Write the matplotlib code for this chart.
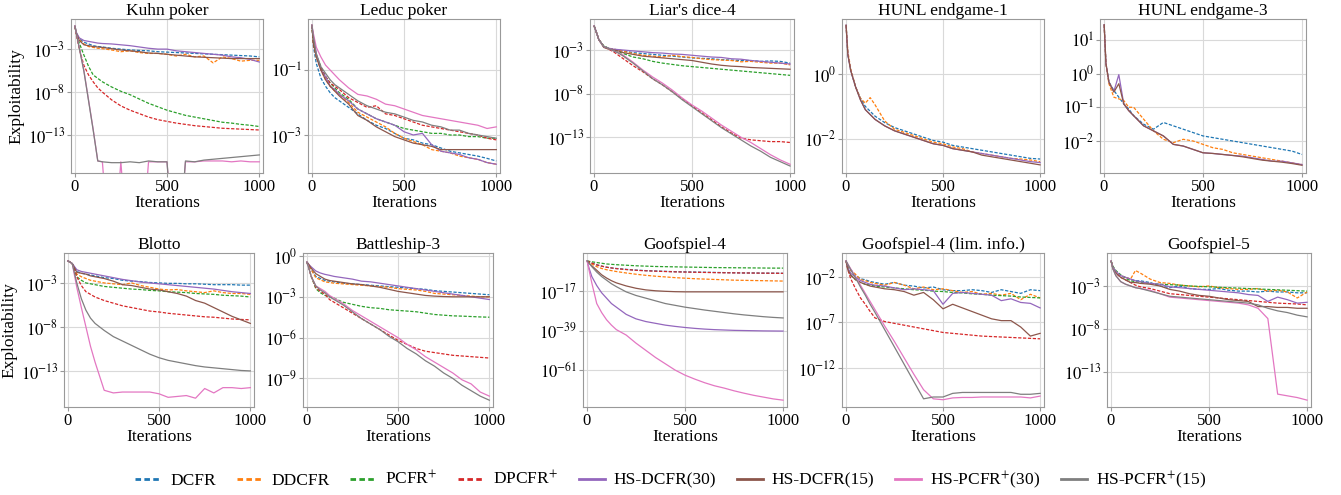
import numpy as np
import matplotlib
matplotlib.use("Agg")
import matplotlib.pyplot as plt
from matplotlib.lines import Line2D

plt.rcParams['font.family'] = ['Liberation Serif', 'DejaVu Serif']
plt.rcParams['mathtext.fontset'] = 'stix'

iters = [1, 10, 25, 50, 75, 100, 125, 150, 200, 250, 300, 350, 400, 450,
         500, 550, 600, 650, 700, 750, 800, 850, 900, 950, 1000]

algos = ['DCFR', 'DDCFR', 'PCFR$^{+}$', 'DPCFR$^{+}$', 'HS-DCFR(30)',
         'HS-DCFR(15)', 'HS-PCFR$^{+}$(30)', 'HS-PCFR$^{+}$(15)']
colors = ['#1f77b4', '#ff7f0e', '#2ca02c', '#d62728', '#9467bd',
          '#8c564b', '#e377c2', '#7f7f7f']
styles = ['--', '--', '--', '--', '-', '-', '-', '-']

games = ['Kuhn poker', 'Leduc poker', "Liar's dice-4", 'HUNL endgame-1',
         'HUNL endgame-3', 'Blotto', 'Battleship-3', 'Goofspiel-4',
         'Goofspiel-4 (lim. info.)', 'Goofspiel-5']

# log10(exploitability), one list per algorithm (None = not run)
kuhn = [
    [-0.33,-1.2,-1.8,-2.2,-2.4,-2.6,-2.7,-2.75,-2.9,-3.0,-3.1,-3.15,-3.2,-3.3,-3.35,-3.4,-3.45,-3.5,-3.55,-3.6,-3.65,-3.7,-3.75,-3.8,-3.9],
    [-0.33,-1.3,-1.9,-2.4,-2.7,-2.8,-2.9,-2.95,-3.1,-3.3,-3.2,-3.4,-3.5,-3.5,-3.6,-3.8,-3.6,-3.9,-3.8,-4.6,-3.9,-4.1,-4.4,-4.3,-4.3],
    [-0.33,-1.3,-2.3,-3.7,-5.0,-6.0,-6.4,-6.8,-7.4,-7.9,-8.3,-8.8,-9.3,-9.7,-10.1,-10.4,-10.7,-10.9,-11.1,-11.3,-11.5,-11.6,-11.75,-11.85,-12.0],
    [-0.33,-1.5,-3.0,-4.9,-6.0,-6.8,-7.5,-8.0,-8.9,-9.6,-10.1,-10.5,-10.9,-11.2,-11.4,-11.6,-11.75,-11.9,-12.0,-12.1,-12.2,-12.25,-12.3,-12.35,-12.4],
    [-0.33,-1.1,-1.7,-2.0,-2.1,-2.2,-2.3,-2.35,-2.4,-2.5,-2.6,-2.75,-2.9,-3.0,-3.0,-3.2,-3.3,-3.4,-3.5,-3.6,-3.7,-3.9,-4.0,-4.2,-4.5],
    [-0.33,-1.2,-2.0,-2.5,-2.6,-2.7,-2.75,-2.8,-2.95,-3.1,-3.2,-3.3,-3.45,-3.5,-3.6,-3.7,-3.8,-3.9,-3.95,-4.0,-4.05,-4.1,-4.1,-4.1,-4.1],
    [-0.33,-1.3,-2.8,-5.5,-8.9,-12.3,-16.0,-16.1,-30,-16.1,-30,-30,-16.1,-16.1,-16.1,-30,-16.1,-16.1,-16.0,-16.0,-16.0,-16.1,-16.0,-16.1,-16.1],
    [-0.33,-1.3,-2.9,-5.6,-9.0,-12.4,-16.0,-16.1,-16.2,-16.2,-16.1,-16.2,-16.0,-16.1,-16.1,-30,-16.0,-16.1,-15.9,-15.8,-15.7,-15.6,-15.5,-15.4,-15.3],
]
leduc = [
    [0.38,-0.3,-0.8,-1.25,-1.5,-1.7,-1.85,-1.95,-2.15,-2.35,-2.55,-2.7,-2.8,-2.95,-3.1,-3.15,-3.25,-3.3,-3.4,-3.5,-3.55,-3.6,-3.65,-3.72,-3.8],
    [0.38,-0.2,-0.6,-1.0,-1.3,-1.5,-1.65,-1.75,-2.0,-2.3,-2.45,-2.6,-2.75,-2.95,-3.1,-3.2,-3.3,-3.45,-3.5,-3.55,-3.65,-3.7,-3.75,-3.85,-3.9],
    [0.38,-0.2,-0.55,-0.9,-1.2,-1.4,-1.55,-1.7,-1.9,-2.2,-2.35,-2.5,-2.6,-2.7,-2.8,-2.85,-2.9,-2.95,-2.95,-3.0,-3.0,-3.05,-3.05,-3.1,-3.1],
    [0.38,-0.2,-0.55,-0.95,-1.2,-1.4,-1.5,-1.6,-1.85,-2.0,-2.15,-2.1,-2.35,-2.4,-2.5,-2.6,-2.7,-2.75,-2.8,-2.85,-2.9,-2.95,-3.0,-3.1,-3.15],
    [0.38,0.0,-0.5,-1.0,-1.2,-1.5,-1.6,-1.75,-1.95,-2.2,-2.35,-2.5,-2.6,-2.7,-2.9,-3.0,-2.95,-3.3,-3.5,-3.55,-3.6,-3.7,-3.75,-3.85,-3.9],
    [0.38,-0.2,-0.6,-1.0,-1.3,-1.5,-1.65,-1.8,-2.05,-2.4,-2.55,-2.75,-2.9,-3.05,-3.15,-3.25,-3.3,-3.35,-3.45,-3.45,-3.45,-3.45,-3.45,-3.45,-3.45],
    [0.38,0.1,-0.3,-0.6,-0.85,-1.0,-1.15,-1.3,-1.55,-1.75,-1.8,-1.9,-2.05,-2.1,-2.2,-2.3,-2.4,-2.45,-2.5,-2.55,-2.6,-2.65,-2.7,-2.8,-2.75],
    [0.38,0.0,-0.5,-0.9,-1.1,-1.3,-1.45,-1.55,-1.75,-1.95,-2.1,-2.2,-2.3,-2.35,-2.45,-2.55,-2.6,-2.7,-2.75,-2.85,-2.85,-2.95,-3.0,-3.05,-3.1],
]
liars = [
    [-0.24,-0.8,-1.8,-2.6,-2.8,-2.9,-3.0,-3.1,-3.3,-3.4,-3.5,-3.6,-3.7,-3.8,-3.9,-3.95,-4.0,-4.1,-4.15,-4.2,-4.2,-4.3,-4.25,-4.3,-4.5],
    [-0.24,-0.8,-1.8,-2.6,-2.8,-2.9,-3.0,-3.15,-3.4,-3.6,-3.7,-3.8,-3.6,-3.75,-3.85,-4.0,-4.1,-4.15,-4.2,-4.35,-4.3,-4.4,-4.5,-4.5,-4.7],
    [-0.24,-0.8,-1.8,-2.5,-2.8,-3.0,-3.2,-3.4,-3.8,-4.0,-4.3,-4.5,-4.65,-4.8,-4.9,-5.0,-5.1,-5.2,-5.3,-5.4,-5.5,-5.6,-5.7,-5.8,-5.9],
    [-0.24,-0.8,-1.8,-2.6,-2.9,-3.2,-3.6,-4.0,-4.8,-5.5,-6.3,-7.0,-7.8,-8.6,-9.4,-10.2,-11.0,-11.8,-12.5,-13.1,-13.3,-13.4,-13.5,-13.5,-13.6],
    [-0.24,-0.8,-1.8,-2.6,-2.8,-2.9,-2.95,-3.0,-3.1,-3.2,-3.3,-3.35,-3.45,-3.5,-3.6,-3.7,-3.8,-3.85,-4.0,-4.05,-4.2,-4.3,-4.4,-4.5,-4.6],
    [-0.24,-0.8,-1.8,-2.7,-2.9,-3.0,-3.1,-3.3,-3.5,-3.7,-3.8,-3.9,-4.0,-4.1,-4.2,-4.4,-4.6,-4.75,-4.85,-4.9,-5.0,-5.05,-5.1,-5.15,-5.2],
    [-0.24,-0.8,-1.8,-2.6,-2.8,-3.1,-3.3,-3.6,-4.4,-5.3,-6.1,-6.8,-7.6,-8.5,-9.3,-10.0,-10.8,-11.6,-12.3,-13.0,-13.6,-14.3,-15.0,-15.6,-16.1],
    [-0.24,-0.8,-1.8,-2.6,-2.8,-3.1,-3.35,-3.7,-4.5,-5.4,-6.3,-7.0,-7.8,-8.7,-9.5,-10.3,-11.1,-11.9,-12.6,-13.3,-14.0,-14.6,-15.3,-15.8,-16.3],
]
hunl1 = [
    [1.5,0.6,0.1,-0.4,-0.75,-1.0,-1.15,-1.3,-1.5,-1.65,-1.75,-1.85,-1.95,-2.05,-2.1,-2.2,-2.25,-2.3,-2.35,-2.4,-2.45,-2.5,-2.55,-2.6,-2.62],
    [1.5,0.7,0.15,-0.4,-0.75,-0.9,-0.73,-0.95,-1.45,-1.7,-1.8,-1.9,-2.0,-2.1,-2.15,-2.25,-2.3,-2.4,-2.45,-2.5,-2.55,-2.6,-2.62,-2.65,-2.7],
    None,
    None,
    [1.5,0.6,0.1,-0.4,-0.8,-1.1,-1.25,-1.4,-1.6,-1.75,-1.85,-1.95,-2.05,-2.15,-2.2,-2.3,-2.35,-2.4,-2.45,-2.5,-2.55,-2.6,-2.65,-2.7,-2.73],
    [1.5,0.6,0.1,-0.4,-0.8,-1.1,-1.25,-1.4,-1.6,-1.75,-1.85,-1.95,-2.05,-2.15,-2.2,-2.3,-2.35,-2.4,-2.5,-2.55,-2.6,-2.65,-2.7,-2.75,-2.8],
    None,
    None,
]
hunl3 = [
    [1.45,0.3,-0.25,-0.5,-0.7,-0.9,-1.05,-1.25,-1.5,-1.65,-1.45,-1.55,-1.65,-1.75,-1.85,-1.9,-1.95,-2.0,-2.05,-2.1,-2.15,-2.2,-2.25,-2.3,-2.4],
    [1.45,0.3,-0.3,-0.7,-0.75,-0.8,-1.0,-1.0,-1.35,-1.7,-1.95,-2.05,-1.95,-2.0,-2.1,-2.2,-2.25,-2.35,-2.4,-2.45,-2.5,-2.55,-2.6,-2.65,-2.7],
    None,
    None,
    [1.45,0.3,-0.25,-0.53,-0.03,-0.9,-1.1,-1.25,-1.55,-1.7,-1.85,-2.1,-2.15,-2.25,-2.35,-2.37,-2.4,-2.43,-2.45,-2.5,-2.55,-2.6,-2.6,-2.65,-2.7],
    [1.45,0.3,-0.25,-0.55,-0.3,-0.9,-1.1,-1.25,-1.55,-1.7,-1.85,-2.1,-2.15,-2.25,-2.35,-2.37,-2.4,-2.43,-2.47,-2.52,-2.57,-2.6,-2.63,-2.67,-2.72],
    None,
    None,
]
blotto = [
    [-0.5,-0.6,-0.8,-1.7,-1.9,-2.0,-2.1,-2.2,-2.4,-2.5,-2.7,-2.8,-2.85,-2.95,-3.0,-3.05,-3.05,-3.1,-3.1,-3.15,-3.2,-3.2,-3.2,-3.25,-3.25],
    [-0.5,-0.6,-0.8,-2.0,-2.3,-2.5,-2.7,-2.8,-3.0,-3.1,-3.2,-3.0,-3.3,-3.5,-3.7,-3.8,-3.75,-3.9,-4.0,-4.1,-3.9,-4.1,-4.2,-4.2,-4.3],
    [-0.5,-0.6,-0.8,-2.3,-2.7,-3.0,-3.1,-3.2,-3.4,-3.5,-3.6,-3.7,-3.75,-3.85,-3.9,-4.0,-4.05,-4.1,-4.2,-4.25,-4.3,-4.4,-4.45,-4.5,-4.6],
    [-0.5,-0.6,-0.8,-2.3,-3.3,-4.0,-4.3,-4.6,-5.0,-5.3,-5.6,-5.8,-6.0,-6.2,-6.3,-6.45,-6.55,-6.65,-6.75,-6.85,-6.9,-7.0,-7.1,-7.15,-7.2],
    [-0.5,-0.6,-0.8,-1.5,-1.7,-1.8,-1.9,-2.0,-2.2,-2.4,-2.6,-2.75,-2.9,-3.0,-3.1,-3.2,-3.3,-3.4,-3.5,-3.6,-3.7,-3.85,-4.0,-4.1,-4.2],
    [-0.5,-0.6,-0.8,-1.8,-1.9,-2.0,-2.2,-2.3,-2.5,-2.8,-3.2,-3.3,-3.5,-3.7,-3.8,-4.0,-4.2,-4.5,-5.0,-5.3,-5.8,-6.3,-6.8,-7.2,-7.6],
    [-0.5,-0.6,-0.8,-3.5,-5.8,-8.0,-10.2,-12.0,-15.2,-15.5,-15.4,-15.4,-15.4,-15.4,-15.6,-16.0,-15.9,-15.8,-16.1,-15.0,-15.5,-14.9,-14.9,-15.0,-14.9],
    [-0.5,-0.6,-0.8,-3.0,-4.8,-6.1,-7.0,-7.6,-8.4,-9.1,-9.6,-10.1,-10.6,-11.1,-11.5,-11.8,-12.0,-12.2,-12.4,-12.55,-12.65,-12.75,-12.85,-12.95,-13.0],
]
battleship = [
    [-0.45,-0.6,-1.0,-1.5,-1.65,-1.8,-1.85,-1.9,-2.0,-2.05,-2.1,-2.15,-2.2,-2.25,-2.3,-2.35,-2.4,-2.45,-2.55,-2.6,-2.65,-2.7,-2.75,-2.8,-2.85],
    [-0.45,-0.6,-1.0,-1.6,-1.75,-1.9,-1.95,-2.0,-2.05,-2.1,-2.15,-2.2,-2.25,-2.3,-2.4,-2.45,-2.5,-2.6,-2.75,-2.8,-2.85,-2.9,-2.95,-3.0,-3.0],
    [-0.45,-0.8,-1.5,-2.4,-2.7,-2.9,-3.0,-3.1,-3.4,-3.55,-3.7,-3.8,-3.85,-3.95,-4.0,-4.05,-4.1,-4.2,-4.3,-4.35,-4.4,-4.42,-4.45,-4.48,-4.5],
    [-0.45,-0.8,-1.5,-2.3,-2.6,-2.8,-3.2,-3.4,-3.8,-4.2,-4.6,-5.0,-5.4,-5.8,-6.2,-6.5,-6.8,-7.0,-7.1,-7.2,-7.3,-7.35,-7.4,-7.45,-7.5],
    [-0.45,-0.6,-0.8,-1.1,-1.25,-1.35,-1.42,-1.5,-1.6,-1.7,-1.85,-1.9,-2.0,-2.1,-2.2,-2.3,-2.4,-2.5,-2.6,-2.7,-2.8,-2.9,-3.0,-3.1,-3.2],
    [-0.45,-0.6,-0.9,-1.3,-1.5,-1.7,-1.8,-1.85,-1.95,-2.05,-2.1,-2.2,-2.3,-2.45,-2.6,-2.7,-2.8,-2.9,-2.95,-2.98,-3.0,-3.0,-3.0,-3.0,-3.0],
    [-0.45,-0.8,-1.5,-2.2,-2.4,-2.6,-2.9,-3.1,-3.5,-4.0,-4.4,-4.8,-5.2,-5.6,-6.0,-6.5,-6.9,-7.4,-7.8,-8.2,-8.6,-9.1,-9.4,-10.0,-10.3],
    [-0.45,-0.8,-1.5,-2.2,-2.5,-2.7,-3.0,-3.2,-3.6,-4.1,-4.6,-5.0,-5.4,-5.9,-6.3,-6.8,-7.2,-7.7,-8.1,-8.6,-9.0,-9.5,-9.9,-10.3,-10.6],
]
goof4 = [
    [-0.3,-0.8,-1.5,-2.5,-3.2,-3.8,-4.2,-4.5,-5.0,-5.4,-5.7,-5.9,-6.1,-6.3,-6.4,-6.5,-6.6,-6.7,-6.8,-6.9,-7.0,-7.0,-7.1,-7.1,-7.2],
    [-0.3,-1.0,-2.0,-3.5,-4.5,-5.2,-5.7,-6.2,-7.0,-7.7,-8.3,-8.8,-9.2,-9.6,-9.9,-10.2,-10.4,-10.6,-10.8,-11.0,-11.1,-11.2,-11.3,-11.4,-11.5],
    [-0.3,-0.5,-0.8,-1.2,-1.6,-2.0,-2.2,-2.4,-2.7,-3.0,-3.2,-3.4,-3.5,-3.6,-3.7,-3.8,-3.9,-4.0,-4.05,-4.1,-4.15,-4.2,-4.25,-4.3,-4.3],
    [-0.3,-0.8,-1.5,-2.5,-3.2,-3.8,-4.2,-4.6,-5.1,-5.5,-5.8,-6.0,-6.2,-6.4,-6.5,-6.6,-6.7,-6.8,-6.9,-6.95,-7.0,-7.05,-7.1,-7.15,-7.2],
    [-0.3,-4.0,-9.0,-14.0,-18.0,-21.0,-24.0,-26.0,-30.0,-32.5,-34.0,-35.0,-36.0,-36.7,-37.3,-37.8,-38.2,-38.5,-38.7,-38.9,-39.0,-39.1,-39.2,-39.25,-39.3],
    [-0.3,-1.5,-3.0,-5.5,-8.0,-9.8,-11.3,-12.5,-14.2,-15.5,-16.4,-16.9,-17.2,-17.4,-17.5,-17.5,-17.5,-17.5,-17.5,-17.5,-17.5,-17.5,-17.5,-17.5,-17.5],
    [-0.3,-5.0,-12.6,-24.0,-29.0,-33.0,-36.0,-38.5,-41.5,-46.0,-50.0,-54.0,-57.5,-61.0,-63.8,-66.0,-68.0,-69.7,-71.0,-72.5,-73.8,-75.0,-76.0,-77.0,-77.7],
    [-0.3,-1.5,-3.5,-6.5,-9.0,-11.0,-13.0,-14.6,-17.5,-19.5,-21.0,-22.5,-24.0,-25.0,-26.0,-26.8,-27.6,-28.3,-29.0,-29.7,-30.3,-30.8,-31.3,-31.7,-32.0],
]
goof4_lim = [
    [-0.24,-0.8,-1.2,-1.8,-2.2,-2.3,-2.5,-2.6,-2.8,-2.6,-2.9,-3.0,-3.2,-3.1,-3.4,-3.5,-3.5,-3.4,-3.5,-3.7,-3.4,-3.6,-3.8,-3.4,-3.5],
    [-0.24,-0.9,-1.3,-1.7,-2.3,-2.4,-2.6,-2.7,-2.9,-2.6,-2.9,-3.3,-3.1,-3.4,-3.3,-3.5,-3.7,-3.6,-3.9,-3.8,-4.0,-3.8,-4.5,-3.9,-4.3],
    [-0.24,-1.0,-1.8,-2.3,-2.6,-2.8,-2.9,-3.0,-3.1,-3.2,-3.3,-3.4,-3.45,-3.55,-3.6,-3.7,-3.75,-3.85,-3.9,-4.0,-4.05,-4.1,-4.2,-4.25,-4.3],
    [-0.24,-1.2,-2.2,-3.3,-4.3,-5.0,-5.8,-6.5,-6.9,-7.1,-7.3,-7.5,-7.7,-7.9,-8.1,-8.2,-8.3,-8.4,-8.5,-8.55,-8.6,-8.65,-8.7,-8.75,-8.8],
    [-0.24,-1.0,-1.6,-2.0,-2.4,-2.6,-2.8,-2.9,-3.0,-3.2,-3.4,-3.3,-3.4,-3.5,-5.0,-3.8,-3.7,-3.8,-3.9,-4.0,-4.6,-4.4,-4.8,-4.9,-5.4],
    [-0.24,-1.2,-1.8,-2.3,-2.6,-2.8,-3.0,-3.1,-3.3,-3.4,-3.6,-4.0,-3.7,-4.5,-5.5,-5.0,-5.4,-5.8,-6.2,-6.6,-6.8,-6.8,-7.5,-8.5,-8.2],
    [-0.24,-0.56,-1.1,-2.0,-2.9,-3.8,-4.7,-5.6,-7.4,-9.1,-10.9,-12.7,-14.4,-15.4,-15.5,-15.3,-15.25,-15.25,-15.2,-15.2,-15.2,-15.2,-15.2,-15.3,-15.1],
    [-0.24,-0.6,-1.2,-2.1,-3.1,-4.0,-5.0,-5.9,-7.8,-9.7,-11.6,-13.5,-15.4,-15.2,-15.2,-14.8,-14.7,-14.7,-14.7,-14.7,-14.7,-14.7,-14.9,-14.9,-14.8],
]
goof5 = [
    [-0.1,-0.8,-1.3,-1.8,-2.0,-2.2,-2.4,-2.4,-2.6,-3.0,-3.2,-3.0,-3.3,-3.4,-3.4,-3.3,-3.5,-3.6,-3.6,-3.7,-3.6,-3.7,-3.7,-3.8,-3.8],
    [-0.1,-0.8,-1.3,-1.8,-2.0,-2.2,-1.2,-1.5,-2.2,-2.6,-2.7,-2.9,-3.0,-3.1,-3.0,-3.2,-3.3,-3.4,-3.4,-3.3,-3.6,-3.5,-3.7,-4.4,-3.7],
    [-0.1,-0.7,-1.2,-1.7,-2.1,-2.4,-2.5,-2.55,-2.7,-2.8,-2.85,-2.9,-3.0,-3.05,-3.1,-3.15,-3.2,-3.25,-3.3,-3.35,-3.4,-3.45,-3.5,-3.55,-3.6],
    [-0.1,-0.9,-1.5,-2.0,-2.3,-2.6,-2.9,-3.1,-3.3,-3.6,-3.9,-4.0,-4.1,-4.2,-4.3,-4.4,-4.5,-4.6,-4.7,-4.8,-4.9,-5.0,-5.05,-5.1,-5.2],
    [-0.1,-0.8,-1.3,-1.8,-2.0,-2.2,-2.4,-2.5,-2.7,-2.8,-3.1,-3.2,-3.3,-3.4,-3.5,-3.6,-3.7,-3.8,-4.0,-4.1,-4.8,-4.3,-4.6,-5.0,-4.9],
    [-0.1,-1.0,-1.5,-2.0,-2.3,-2.6,-2.6,-2.7,-2.8,-3.0,-3.4,-3.6,-3.9,-4.1,-4.2,-4.4,-4.6,-4.7,-4.8,-5.4,-5.4,-5.5,-5.5,-5.6,-5.6],
    [-0.1,-1.0,-1.8,-2.5,-2.8,-3.0,-3.2,-3.3,-3.5,-3.9,-4.3,-4.4,-4.5,-4.6,-4.7,-4.8,-4.9,-5.0,-5.2,-5.6,-6.8,-15.6,-15.8,-16.0,-16.3],
    [-0.1,-1.0,-1.8,-2.5,-2.8,-3.0,-3.2,-3.3,-3.6,-3.9,-4.2,-4.3,-4.4,-4.5,-4.6,-4.7,-4.8,-4.9,-5.0,-5.2,-5.6,-5.9,-6.1,-6.4,-6.6],
]
all_data = [kuhn, leduc, liars, hunl1, hunl3, blotto, battleship, goof4, goof4_lim, goof5]

# y ticks (exponents) and y limits (exponents) per game
yticks = [[-3, -8, -13], [-1, -3], [-3, -8, -13], [0, -2], [1, 0, -1, -2],
          [-3, -8, -13], [0, -3, -6, -9], [-17, -39, -61], [-2, -7, -12], [-3, -8, -13]]
ylims = [(-17.4, 0.5), (-4.17, 0.57), (-17.1, 0.56), (-3.05, 1.69), (-2.95, 1.62),
         (-17.1, 0.4), (-11.1, 0.22), (-81.5, 4.1), (-16.3, 0.64), (-17.1, 0.84)]

# axes boxes in pixels: left, right, top, bottom
W, H = 1341, 495
boxes = [(71, 263, 19, 173), (308, 500, 19, 173), (590, 794, 19, 173),
         (842, 1044, 19, 173), (1100, 1306, 19, 173),
         (64, 254, 253, 407), (303, 493, 253, 407), (583, 787, 253, 407),
         (842, 1044, 253, 407), (1107, 1311, 253, 407)]

fig = plt.figure(figsize=(W / 100, H / 100), dpi=100)

for g in range(10):
    l, r, t, b = boxes[g]
    ax = fig.add_axes([l / W, 1 - b / H, (r - l) / W, (b - t) / H])
    ax.set_yscale('log')
    for k in range(8):
        d = all_data[g][k]
        if d is None:
            continue
        line, = ax.plot(iters, 10.0 ** np.array(d), color=colors[k],
                        ls=styles[k], lw=0.9)
        if styles[k] == '--':
            line.set_dashes((2.6, 1.3))
    ax.set_ylim(10.0 ** ylims[g][0], 10.0 ** ylims[g][1])
    ax.set_xlim(-20, 1020)
    ax.set_xticks([0, 500, 1000])
    ax.set_yticks([10.0 ** e for e in yticks[g]])
    ax.set_yticklabels(['$10^{%d}$' % e for e in yticks[g]])
    ax.yaxis.set_minor_locator(matplotlib.ticker.NullLocator())
    ax.grid(True, color='#d9d9d9', lw=0.8)
    ax.set_axisbelow(True)
    for s in ax.spines.values():
        s.set_color('#999999')
    ax.tick_params(labelsize=12, length=3, color='#999999', pad=1)
    ax.set_title(games[g], fontsize=12.5, pad=3)
    ax.set_xlabel('Iterations', fontsize=12.5, labelpad=0)
    if g % 5 == 0:
        ax.set_ylabel('Exploitability', fontsize=12.5, labelpad=2)

handles = []
for k in range(8):
    h = Line2D([], [], color=colors[k], ls=styles[k], lw=2.0)
    if styles[k] == '--':
        h.set_dashes((2.0, 1.2))
    handles.append(h)
fig.legend(handles, algos, loc='center', bbox_to_anchor=(0.5, 0.03), ncol=8,
           frameon=False, fontsize=12.5, handlelength=1.5, columnspacing=1.2,
           handletextpad=0.5)

fig.savefig('out.png', dpi=100)
